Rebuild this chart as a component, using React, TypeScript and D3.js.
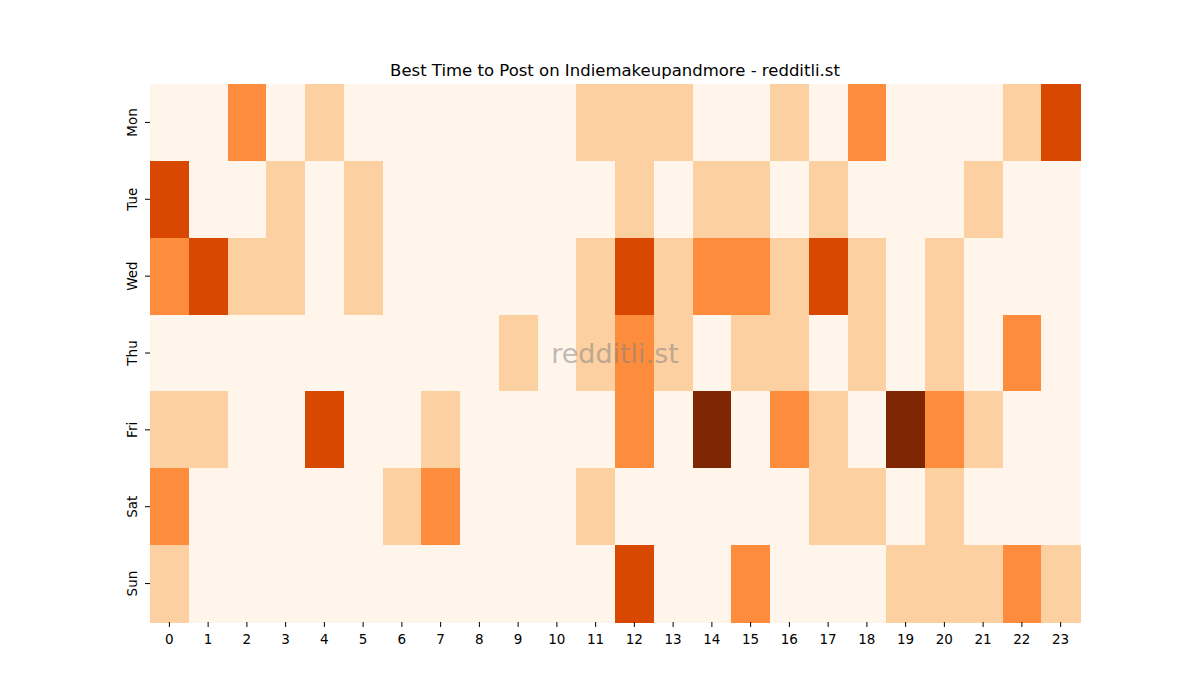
import { useEffect, useRef } from 'react'
import * as d3 from 'd3'

const days = ['Mon', 'Tue', 'Wed', 'Thu', 'Fri', 'Sat', 'Sun']
const hours = d3.range(24).map(String)

// activity level per hour (0-23), one row per day
const mon = [0, 0, 2, 0, 1, 0, 0, 0, 0, 0, 0, 1, 1, 1, 0, 0, 1, 0, 2, 0, 0, 0, 1, 3]
const tue = [3, 0, 0, 1, 0, 1, 0, 0, 0, 0, 0, 0, 1, 0, 1, 1, 0, 1, 0, 0, 0, 1, 0, 0]
const wed = [2, 3, 1, 1, 0, 1, 0, 0, 0, 0, 0, 1, 3, 1, 2, 2, 1, 3, 1, 0, 1, 0, 0, 0]
const thu = [0, 0, 0, 0, 0, 0, 0, 0, 0, 1, 0, 1, 2, 1, 0, 1, 1, 0, 1, 0, 1, 0, 2, 0]
const fri = [1, 1, 0, 0, 3, 0, 0, 1, 0, 0, 0, 0, 2, 0, 4, 0, 2, 1, 0, 4, 2, 1, 0, 0]
const sat = [2, 0, 0, 0, 0, 0, 1, 2, 0, 0, 0, 1, 0, 0, 0, 0, 0, 1, 1, 0, 1, 0, 0, 0]
const sun = [1, 0, 0, 0, 0, 0, 0, 0, 0, 0, 0, 0, 3, 0, 0, 2, 0, 0, 0, 1, 1, 1, 2, 1]

const rows = [mon, tue, wed, thu, fri, sat, sun]

export default function App() {
  const svgRef = useRef<SVGSVGElement>(null)

  useEffect(() => {
    if (!svgRef.current) return
    const svg = d3.select(svgRef.current)
    svg.selectAll('*').remove()

    const width = 1200
    const height = 700
    const margin = { top: 84, right: 120, bottom: 78, left: 150 }
    const innerWidth = width - margin.left - margin.right
    const innerHeight = height - margin.top - margin.bottom

    const xScale = d3.scaleBand().domain(hours).range([0, innerWidth])
    const yScale = d3.scaleBand().domain(days).range([0, innerHeight])

    // matplotlib "Oranges" sampled at 0, .25, .5, .75, 1
    const color = d3.scaleLinear<string>()
      .domain([0, 1, 2, 3, 4])
      .range(['#fff5eb', '#fdd0a2', '#fd8d3c', '#d94801', '#7f2704'])

    const cells = rows.flatMap((row, i) =>
      row.map((v, j) => ({ day: days[i], hour: hours[j], value: v }))
    )

    svg.append('rect')
      .attr('width', width)
      .attr('height', height)
      .attr('fill', '#ffffff')

    const g = svg.append('g')
      .attr('transform', `translate(${margin.left},${margin.top})`)

    g.selectAll('.cell')
      .data(cells)
      .enter().append('rect')
      .attr('class', 'cell')
      .attr('x', d => xScale(d.hour) || 0)
      .attr('y', d => yScale(d.day) || 0)
      .attr('width', xScale.bandwidth() + 0.5)
      .attr('height', yScale.bandwidth() + 0.5)
      .attr('fill', d => color(d.value))
      .attr('shape-rendering', 'crispEdges')

    const xAxis = g.append('g')
      .attr('transform', `translate(0,${innerHeight})`)
      .call(d3.axisBottom(xScale).tickSize(5).tickPadding(7))
    xAxis.select('.domain').remove()
    xAxis.selectAll('text')
      .style('font-family', 'DejaVu Sans')
      .style('font-size', '13.5px')
      .attr('fill', '#000')

    const yAxis = g.append('g')
      .call(d3.axisLeft(yScale).tickSize(5))
    yAxis.select('.domain').remove()
    // rotated labels sitting left of each tick
    yAxis.selectAll('text')
      .style('font-family', 'DejaVu Sans')
      .style('font-size', '13.5px')
      .attr('fill', '#000')
      .attr('text-anchor', 'middle')
      .attr('x', 0)
      .attr('y', 0)
      .attr('dy', '0.35em')
      .attr('transform', 'translate(-18,0) rotate(-90)')

    svg.append('text')
      .attr('x', margin.left + innerWidth / 2)
      .attr('y', 76)
      .attr('text-anchor', 'middle')
      .style('font-family', 'DejaVu Sans')
      .style('font-size', '16.5px')
      .text('Best Time to Post on Indiemakeupandmore - redditli.st')

    svg.append('text')
      .attr('x', margin.left + innerWidth / 2)
      .attr('y', margin.top + innerHeight / 2 + 10)
      .attr('text-anchor', 'middle')
      .style('font-family', 'DejaVu Sans')
      .style('font-size', '27px')
      .attr('fill', '#808080')
      .attr('opacity', 0.5)
      .text('redditli.st')
  }, [])

  return (
    <svg ref={svgRef} width={1200} height={700} style={{ display: 'block', margin: -8 }} />
  )
}
